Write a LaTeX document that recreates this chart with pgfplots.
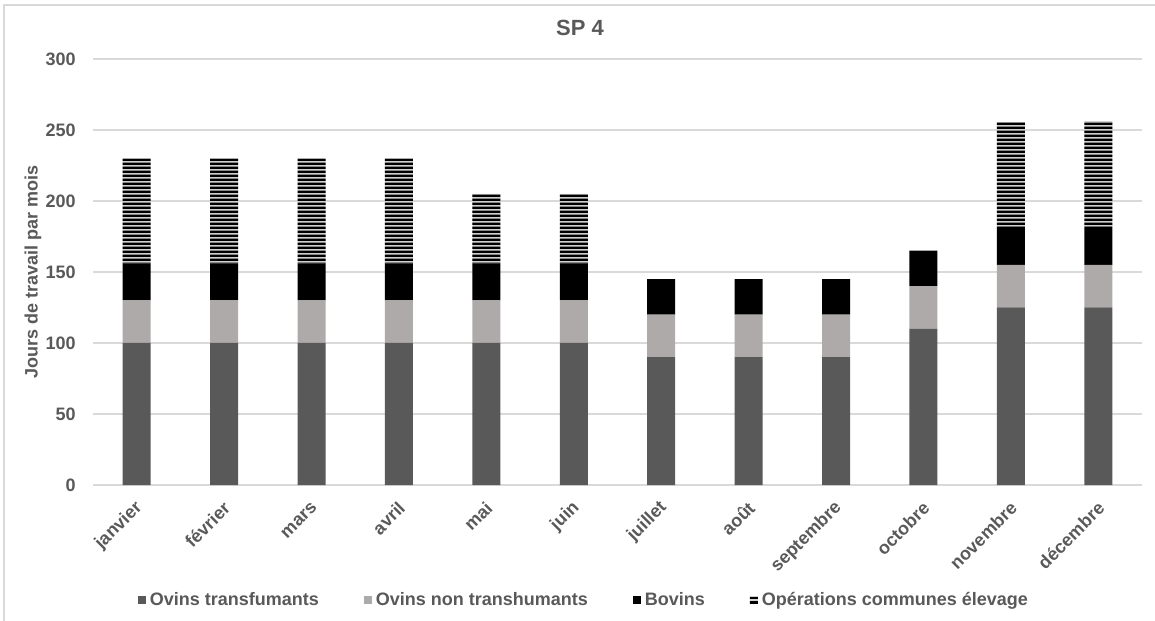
\documentclass[border=0pt]{standalone}
\usepackage{fontspec}
\setmainfont{Liberation Sans}
\usepackage{pgfplots}
\pgfplotsset{compat=1.18}
\usetikzlibrary{patterns}
\definecolor{txt}{HTML}{595959}
\definecolor{grd}{HTML}{D9D9D9}
\definecolor{ovt}{HTML}{595959}
\definecolor{ovn}{HTML}{AEAAAA}
\definecolor{hbg}{HTML}{D0D0D0}
\pgfdeclarepatternformonly{hstripes}{\pgfpoint{0bp}{0bp}}{\pgfpoint{20bp}{2.15bp}}{\pgfpoint{20bp}{2.15bp}}{%
  \pgfpathrectangle{\pgfpoint{-1bp}{0bp}}{\pgfpoint{22bp}{1.35bp}}\pgfusepath{fill}}
\begin{document}
\begin{tikzpicture}
\path[use as bounding box] (0,0) rectangle (577.5bp,310.5bp);
\draw[grd, line width=0.75bp] (2bp,0) -- (2bp,308bp) -- (577.5bp,308bp);
\begin{axis}[
 at={(46.5bp,68bp)}, anchor=south west, scale only axis,
 width=524.5bp, height=213bp,
 ybar stacked, bar width=14bp,
 xmin=-0.5, xmax=11.5, ymin=0, ymax=300,
 xtick={0,...,11},
 xticklabels={janvier,février,mars,avril,mai,juin,juillet,août,septembre,octobre,novembre,décembre},
 ytick={0,50,...,300},
 ymajorgrids, grid style={grd, line width=0.75bp},
 axis line style={draw=none}, major tick length=0pt,
 tick label style={font=\fontsize{9bp}{11bp}\selectfont\bfseries, text=txt},
 /pgf/number format/assume math mode=true,
 yticklabel style={inner sep=0pt, xshift=-8.5bp},
 xticklabel style={xshift=1.5bp, yshift=-10bp, rotate=45, anchor=east, inner sep=0pt},
 legend columns=4,
 legend style={draw=none, at={(0.469,-0.27)}, anchor=center,
   font=\fontsize{9bp}{11bp}\selectfont\bfseries, text=txt,
   /tikz/every even column/.append style={column sep=20.5bp}},
 legend image code/.code={\draw[#1,draw=none] (0bp,-2bp) rectangle (4bp,2bp);},
]
\addplot[fill=ovt, draw=none] coordinates {(0,100) (1,100) (2,100) (3,100) (4,100) (5,100) (6,90) (7,90) (8,90) (9,110) (10,125) (11,125)};
\addplot[fill=ovn, draw=none] coordinates {(0,30) (1,30) (2,30) (3,30) (4,30) (5,30) (6,30) (7,30) (8,30) (9,30) (10,30) (11,30)};
\addplot[fill=black, draw=none] coordinates {(0,26) (1,26) (2,26) (3,26) (4,26) (5,26) (6,25) (7,25) (8,25) (9,25) (10,27) (11,27)};
\addplot[fill=hbg, draw=none, postaction={pattern=hstripes, pattern color=black}] coordinates {(0,74) (1,74) (2,74) (3,74) (4,49) (5,49) (6,0) (7,0) (8,0) (9,0) (10,73.5) (11,74.3)};
\legend{Ovins transfumants, Ovins non transhumants, Bovins, Opérations communes élevage}
\end{axis}
\node[font=\fontsize{11bp}{13bp}\selectfont\bfseries, text=txt] at (290bp,296.5bp) {SP 4};
\node[font=\fontsize{9bp}{11bp}\selectfont\bfseries, text=txt, rotate=90] at (16.5bp,174.5bp) {Jours de travail par mois};
\end{tikzpicture}
\end{document}
